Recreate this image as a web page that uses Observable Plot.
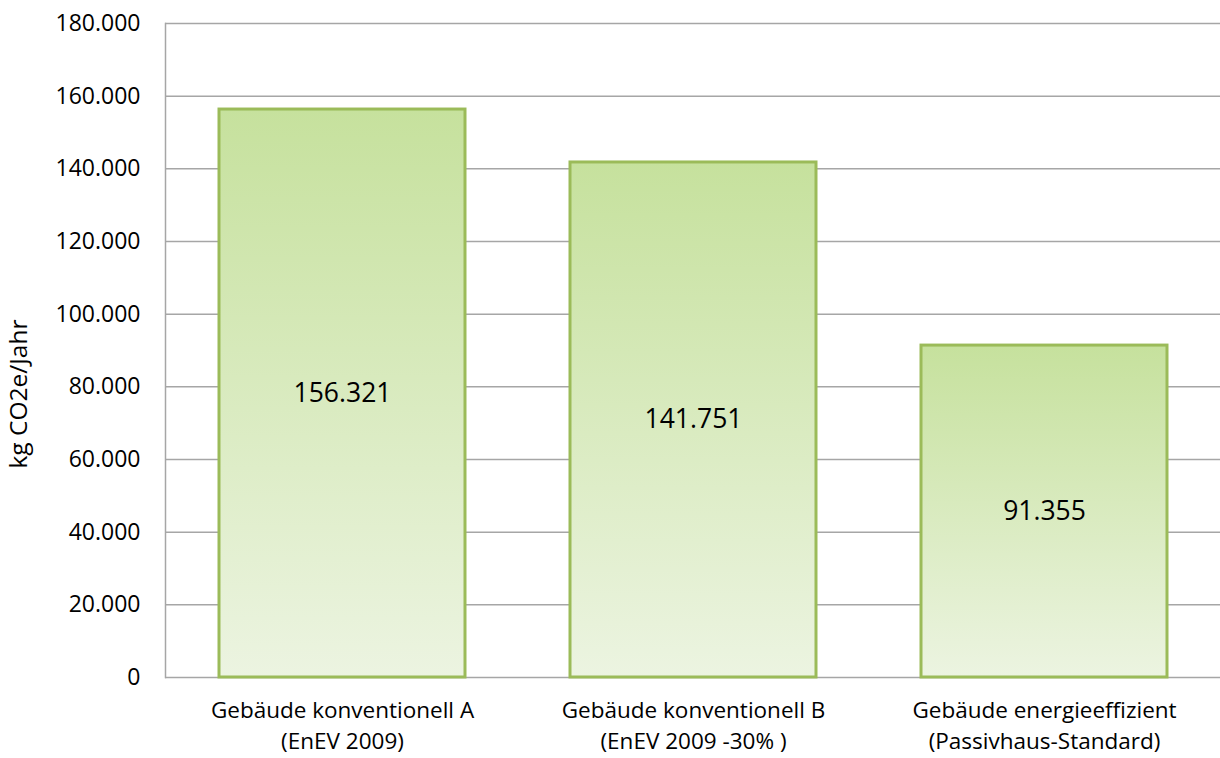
<!DOCTYPE html>
<html><head><meta charset="utf-8">
<script src="https://cdn.jsdelivr.net/npm/d3@7"></script>
<script src="https://cdn.jsdelivr.net/npm/@observablehq/plot@0.6"></script>
<style>
html,body{margin:0;padding:0;background:#fff;}
</style></head>
<body><div id="chart"></div>
<script>
const categories = ["Gebäude konventionell A\n(EnEV 2009)", "Gebäude konventionell B\n(EnEV 2009 -30% )", "Gebäude energieeffizient\n(Passivhaus-Standard)"];
const values = [156321, 141751, 91355];
const yTicks = [0, 20000, 40000, 60000, 80000, 100000, 120000, 140000, 160000, 180000];
const yLabel = "kg CO2e/Jahr";

const data = categories.map((c, i) => ({cat: c, value: values[i]}));
const de = d3.formatLocale({decimal: ",", thousands: ".", grouping: [3], currency: ["", "€"]});
const fmt = de.format(",.0f");
const FONT = "'Open Sans', Lato, sans-serif";

const chart = Plot.plot({
  width: 1220, height: 758,
  marginLeft: 165, marginRight: 0, marginTop: 23, marginBottom: 81,
  style: {fontFamily: FONT, fontSize: "20px", color: "#000", background: "#fff"},
  x: {domain: categories, paddingInner: 0.3, paddingOuter: 0.15, label: null},
  y: {domain: [0, 180000], label: null},
  marks: [
    Plot.gridY(yTicks.filter(d => d > 0), {stroke: "#a6a6a6", strokeOpacity: 1, strokeWidth: 1.5}),
    Plot.ruleY([0], {stroke: "#a6a6a6", strokeWidth: 1.5}),
    Plot.frame({anchor: "left", stroke: "#a6a6a6", strokeWidth: 1.5}),
    Plot.barY(data, {x: "cat", y: "value", fill: "url(#barGrad)", stroke: "#9bbb59", strokeWidth: 3}),
    Plot.text(data, {x: "cat", y: d => d.value / 2, text: d => fmt(d.value), fontSize: 26.5, fill: "#000"}),
    Plot.axisY({ticks: yTicks, tickFormat: fmt, tickSize: 0, tickPadding: 25, fontSize: 23, fill: "#000", label: null}),
    Plot.axisX({tickSize: 0, tickPadding: 19, fontSize: 22.5, fill: "#000", label: null, lineHeight: 1.36})
  ]
});

const svg = d3.select(chart);
const defs = svg.insert("defs", ":first-child");
const g = defs.append("linearGradient").attr("id", "barGrad").attr("x1", 0).attr("y1", 0).attr("x2", 0).attr("y2", 1);
g.append("stop").attr("offset", "0%").attr("stop-color", "#c6e19d");
g.append("stop").attr("offset", "100%").attr("stop-color", "#ecf4e1");

svg.append("text")
  .attr("transform", "translate(20,394) rotate(-90)")
  .attr("text-anchor", "middle")
  .attr("dominant-baseline", "middle")
  .attr("font-size", 24.5)
  .attr("font-family", FONT)
  .attr("fill", "#000")
  .text(yLabel);

document.getElementById("chart").appendChild(chart);
</script>
</body></html>
